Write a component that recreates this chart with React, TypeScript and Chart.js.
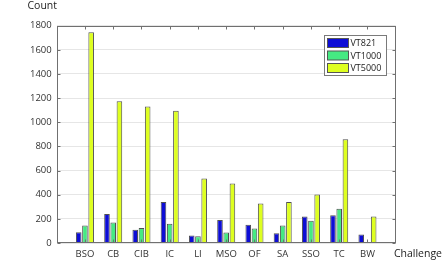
import React, { useEffect, useRef } from "react";
import { Chart, registerables } from "chart.js";

Chart.register(...registerables);

const categories = ["BSO", "CB", "CIB", "IC", "LI", "MSO", "OF", "SA", "SSO", "TC", "BW"];
const seriesNames = ["VT821", "VT1000", "VT5000"];
const vt821 = [90, 240, 110, 340, 62, 190, 152, 80, 220, 230, 70];
const vt1000 = [145, 170, 125, 160, 55, 88, 121, 144, 185, 283, 3];
const vt5000 = [1745, 1175, 1130, 1095, 535, 492, 328, 340, 402, 860, 220];
const seriesColors = ["#0d0dd6", "#45ea82", "#deff20"];
const yTicks = [0, 200, 400, 600, 800, 1000, 1200, 1400, 1600, 1800];
const yLabel = "Count";
const xLabel = "Challenge";

const FONT = "'Open Sans', 'DejaVu Sans', sans-serif";

const decorPlugin = {
  id: "decor",
  afterDraw(chart: any) {
    const ctx = chart.ctx as CanvasRenderingContext2D;
    const a = chart.chartArea;
    const xs = chart.scales.x;
    const ys = chart.scales.y;
    ctx.save();
    // box
    ctx.strokeStyle = "#707070";
    ctx.lineWidth = 1;
    const L = Math.round(a.left) + 0.5;
    const R = Math.round(a.right) - 0.5;
    const T = Math.round(a.top) + 0.5;
    const B = Math.round(a.bottom) - 0.5;
    ctx.strokeRect(L, T, R - L, B - T);
    // ticks
    ctx.beginPath();
    for (let i = 1; i <= categories.length; i++) {
      const x = Math.round(xs.getPixelForValue(i)) + 0.5;
      ctx.moveTo(x, T);
      ctx.lineTo(x, T + 3);
      ctx.moveTo(x, B);
      ctx.lineTo(x, B - 3);
    }
    for (const v of yTicks) {
      const y = Math.round(ys.getPixelForValue(v)) + 0.5;
      ctx.moveTo(L, y);
      ctx.lineTo(L + 3, y);
      ctx.moveTo(R, y);
      ctx.lineTo(R - 3, y);
    }
    ctx.stroke();

    // axis titles
    ctx.fillStyle = "#222";
    ctx.font = `10.5px ${FONT}`;
    ctx.textBaseline = "middle";
    ctx.textAlign = "left";
    ctx.fillText(yLabel, 27.5, 6.5);
    ctx.textAlign = "right";
    ctx.fillText(xLabel, 442, 254.5);

    // legend
    const lx = 324.5, ly = 35.5, lw = 62, lh = 40;
    ctx.fillStyle = "#ffffff";
    ctx.fillRect(lx, ly, lw, lh);
    ctx.strokeStyle = "#7a7a7a";
    ctx.strokeRect(lx, ly, lw, lh);
    ctx.font = `9px ${FONT}`;
    for (let i = 0; i < seriesNames.length; i++) {
      const cy = 43 + i * 12.5;
      ctx.fillStyle = seriesColors[i];
      ctx.fillRect(327.5, cy - 4.5, 21, 9);
      ctx.strokeStyle = "#555";
      ctx.strokeRect(327.5, cy - 4.5, 21, 9);
      ctx.fillStyle = "#222";
      ctx.textAlign = "left";
      ctx.fillText(seriesNames[i], 350.5, cy + 0.5);
    }
    ctx.restore();
  },
};

export default function App() {
  const ref = useRef<HTMLCanvasElement | null>(null);
  useEffect(() => {
    if (!ref.current) return;
    const labels = ["", ...categories, ""];
    const pad = (arr: number[]) => [null, ...arr, null];
    const chart = new Chart(ref.current, {
      type: "bar",
      data: {
        labels,
        datasets: [vt821, vt1000, vt5000].map((d, i) => ({
          label: seriesNames[i],
          data: pad(d),
          backgroundColor: seriesColors[i],
          borderColor: "#505050",
          borderWidth: 1,
          categoryPercentage: 0.66,
          barPercentage: 0.9,
        })),
      },
      options: {
        responsive: false,
        devicePixelRatio: 1,
        animation: false,
        layout: { padding: { left: 0, right: 47.3, top: 25.7, bottom: 0 } },
        plugins: { legend: { display: false }, tooltip: { enabled: false } },
        scales: {
          x: {
            offset: false,
            grid: { display: false, drawTicks: false },
            border: { display: false },
            ticks: {
              autoSkip: false,
              maxRotation: 0,
              padding: 6,
              color: "#333",
              font: { family: FONT, size: 9.5 },
            },
            afterFit(scale: any) {
              scale.height = 29;
            },
          },
          y: {
            min: 0,
            max: 1800,
            afterBuildTicks(scale: any) {
              scale.ticks = yTicks.map((v) => ({ value: v }));
            },
            grid: { color: "#e6e6e6", drawTicks: false },
            border: { display: false },
            ticks: {
              padding: 5,
              color: "#333",
              font: { family: FONT, size: 9.5 },
              callback: (v: any) => String(v),
            },
            afterFit(scale: any) {
              scale.width = 56.7;
            },
          },
        },
      } as any,
      plugins: [decorPlugin],
    });
    return () => chart.destroy();
  }, []);
  return (
    <div style={{ position: "absolute", left: 0, top: 0, width: 443, height: 272, background: "#fff" }}>
      <canvas ref={ref} width={443} height={272} style={{ display: "block" }} />
    </div>
  );
}
